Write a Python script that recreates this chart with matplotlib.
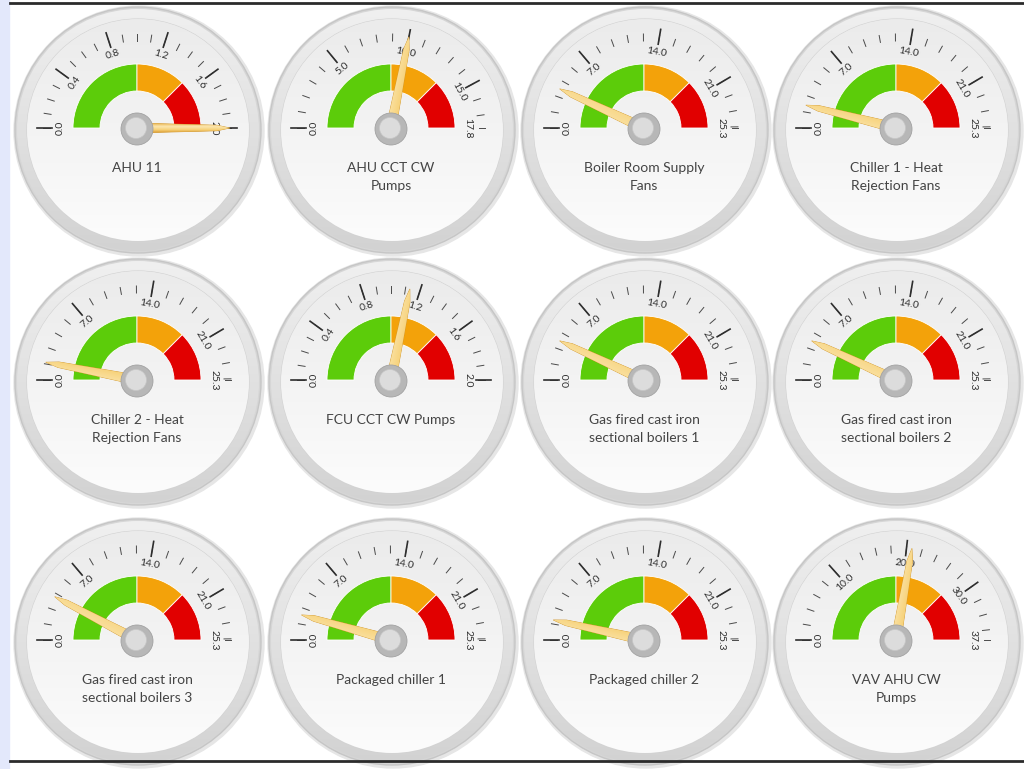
import numpy as np
import matplotlib
matplotlib.use("Agg")
import matplotlib.pyplot as plt
from matplotlib.patches import Circle, Wedge, Polygon

plt.rcParams['font.family'] = ['Lato', 'DejaVu Sans']

# gauge data, row by row
titles = ["AHU 11", "AHU CCT CW\nPumps", "Boiler Room Supply\nFans", "Chiller 1 - Heat\nRejection Fans",
          "Chiller 2 - Heat\nRejection Fans", "FCU CCT CW Pumps", "Gas fired cast iron\nsectional boilers 1",
          "Gas fired cast iron\nsectional boilers 2",
          "Gas fired cast iron\nsectional boilers 3", "Packaged chiller 1", "Packaged chiller 2",
          "VAV AHU CW\nPumps"]
max_vals = [2.0, 17.8, 25.3, 25.3, 25.3, 2.0, 25.3, 25.3, 25.3, 25.3, 25.3, 37.3]
values = [2.0, 10.0, 3.5, 2.0, 1.55, 1.13, 3.5, 3.5, 3.9, 2.2, 1.75, 20.7]
major_steps = [0.4, 5.0, 7.0, 7.0, 7.0, 0.4, 7.0, 7.0, 7.0, 7.0, 7.0, 10.0]
minor_steps = [0.1, 1.0, 1.4, 1.4, 1.4, 0.1, 1.4, 1.4, 1.4, 1.4, 1.4, 2.0]
band_edges = [0.0, 0.5, 0.75, 1.0]          # fraction of full scale
band_colors = ["#5ccc0a", "#f3a20a", "#e10000"]

W, H = 1024, 769
col_x = [137, 391, 644, 896]
row_y = [128, 380, 640]

fig = plt.figure(figsize=(W / 100, H / 100), dpi=100)
ax = fig.add_axes([0, 0, 1, 1])
ax.set_xlim(0, W)
ax.set_ylim(0, H)
ax.set_aspect('equal')
ax.axis('off')

# page frame: light strip on the left, dark rules top and bottom
ax.add_patch(plt.Rectangle((0, 0), 9, H, color="#e3e8fb", zorder=0))
ax.plot([10, W], [H - 3, H - 3], color="#2b2b2b", lw=2, zorder=20)
ax.plot([10, W], [H - 761, H - 761], color="#2b2b2b", lw=2, zorder=20)

grad = np.linspace(0, 1, 256).reshape(-1, 1)
ring_cmap = matplotlib.colors.LinearSegmentedColormap.from_list("r", ["#f0f0f0", "#d2d2d2"])
face_cmap = matplotlib.colors.LinearSegmentedColormap.from_list("f", ["#ebebeb", "#fcfcfc"])
needle_cmap = matplotlib.colors.LinearSegmentedColormap.from_list("n", ["#d9982a", "#f7d27a", "#fbe6b0", "#e9b24a"])


def ang(v, vmax):
    return np.pi * (1 - v / vmax)


for i, title in enumerate(titles):
    cx = col_x[i % 4]
    cy = H - row_y[i // 4]
    vmax = max_vals[i]

    # shadow + bezel
    ax.add_patch(Circle((cx + 2, cy - 3), 125, color="#e6e6e6", zorder=1))
    ax.add_patch(Circle((cx + 1, cy - 2), 123, facecolor="#d6d6d6", edgecolor="#c6c6c6", lw=1, zorder=2))
    ring = Circle((cx + 1, cy - 2), 121, facecolor="none", edgecolor="none", zorder=3)
    ax.add_patch(ring)
    im = ax.imshow(grad, cmap=ring_cmap, extent=(cx - 122, cx + 124, cy - 124, cy + 120),
                   origin='upper', zorder=3)
    im.set_clip_path(ring)
    face = Circle((cx + 1, cy - 2), 111, facecolor="none", edgecolor="#d2d2d2", lw=0.8, zorder=4)
    ax.add_patch(face)
    im2 = ax.imshow(grad, cmap=face_cmap, extent=(cx - 110, cx + 112, cy - 113, cy + 109),
                    origin='upper', zorder=4)
    im2.set_clip_path(face)

    # coloured bands
    for k in range(3):
        t1 = 180 * (1 - band_edges[k + 1])
        t2 = 180 * (1 - band_edges[k])
        ax.add_patch(Wedge((cx, cy), 64, t1, t2, width=27, facecolor=band_colors[k],
                           edgecolor="white", lw=0.6, zorder=5))

    # ticks
    minors = np.arange(0, vmax + 1e-6, minor_steps[i])
    for v in minors:
        a = ang(v, vmax)
        ax.plot([cx + 87 * np.cos(a), cx + 94 * np.cos(a)], [cy + 87 * np.sin(a), cy + 94 * np.sin(a)],
                color="#4a4a4a", lw=0.7, zorder=6)
    majors = np.arange(0, vmax + 1e-6, major_steps[i])
    for v in majors:
        a = ang(v, vmax)
        ax.plot([cx + 85 * np.cos(a), cx + 100 * np.cos(a)], [cy + 85 * np.sin(a), cy + 100 * np.sin(a)],
                color="#2e2e2e", lw=1.2, zorder=6)
    labels = list(majors)
    if vmax - majors[-1] > 1e-6:
        labels.append(vmax)
        a = ang(vmax, vmax)
        ax.plot([cx + 88 * np.cos(a), cx + 94 * np.cos(a)], [cy + 88 * np.sin(a), cy + 94 * np.sin(a)],
                color="#4a4a4a", lw=0.7, zorder=6)
    for v in labels:
        a = ang(v, vmax)
        ax.text(cx + 77 * np.cos(a), cy + 77 * np.sin(a), f"{v:.1f}", fontsize=7.5, color="#2e2e2e",
                rotation=np.degrees(a) - 90, ha='center', va='center', rotation_mode='anchor', zorder=6)

    # needle, shaded across its width
    a = ang(min(values[i], vmax), vmax)
    ux, uy = np.cos(a), np.sin(a)
    px, py = -uy, ux
    pts = [(cx + 93 * ux, cy + 93 * uy),
           (cx + 80 * ux + 2.8 * px, cy + 80 * uy + 2.8 * py),
           (cx - 4 * ux + 5.0 * px, cy - 4 * uy + 5.0 * py),
           (cx - 4 * ux - 5.0 * px, cy - 4 * uy - 5.0 * py),
           (cx + 80 * ux - 2.8 * px, cy + 80 * uy - 2.8 * py)]
    needle = Polygon(pts, closed=True, facecolor="#f1c15a", edgecolor="#cf952c", lw=0.5, zorder=7)
    ax.add_patch(needle)
    xs = [p[0] for p in pts]
    ys = [p[1] for p in pts]
    gx = np.linspace(0, 1, 64)
    # gradient perpendicular to the needle
    gy, gxx = np.mgrid[min(ys):max(ys):64j, min(xs):max(xs):64j]
    side = (gxx - cx) * px + (gy - cy) * py
    nim = ax.imshow((side - side.min()) / (np.ptp(side) + 1e-9), cmap=needle_cmap, origin='lower',
                    extent=(min(xs), max(xs), min(ys), max(ys)), zorder=7, interpolation='bilinear')
    nim.set_clip_path(needle)

    # hub
    ax.add_patch(Circle((cx, cy - 1), 16, facecolor="#b7b7b7", edgecolor="#a2a2a2", lw=0.6, zorder=8))
    ax.add_patch(Circle((cx - 1, cy), 10.5, facecolor="#dcdcdc", edgecolor="#c6c6c6", lw=0.5, zorder=9))

    # caption
    ax.text(cx, cy - 34, title, fontsize=10, color="#444444", ha='center', va='top',
            linespacing=1.55, zorder=6)

fig.savefig("out.png", dpi=100)
